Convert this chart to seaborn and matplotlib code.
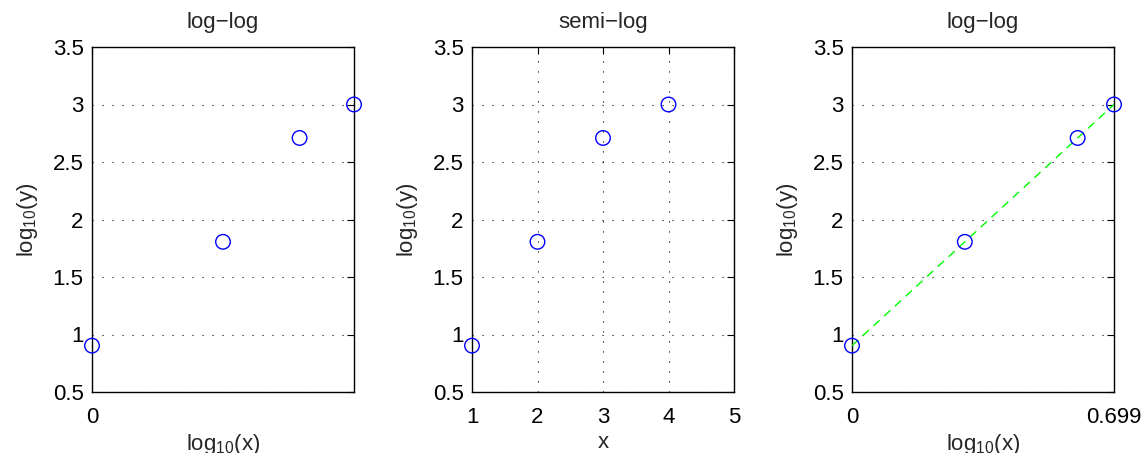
import matplotlib
matplotlib.use('Agg')
import matplotlib.pyplot as plt
import seaborn as sns
import pandas as pd

# values
loglog_x = [0.0, 0.301, 0.477, 0.602]
semilog_x = [1, 2, 3, 4]
fit_x = [0.0, 0.301, 0.602, 0.699]
log_y = [0.903, 1.806, 2.709, 3.0]
fit_line_x = [0.0, 0.699]
fit_line_y = [0.903, 3.0]

titles = ['log\u2212log', 'semi\u2212log', 'log\u2212log']
y_ticks = [0.5, 1, 1.5, 2, 2.5, 3, 3.5]
y_ticklabels = ['0.5', '1', '1.5', '2', '2.5', '3', '3.5']

FS = 16


def style_axes(ax, title, xlabel):
    ax.set_ylim(0.5, 3.5)
    ax.set_yticks(y_ticks)
    ax.set_yticklabels(y_ticklabels)
    ax.set_title(title, fontsize=FS, pad=14)
    ax.set_xlabel(xlabel, fontsize=FS, labelpad=3)
    ax.set_ylabel('log$_{\\mathregular{10}}$(y)', fontsize=FS, labelpad=9)
    ax.grid(True, color='black', linestyle=(0, (1, 8)), linewidth=0.8)
    ax.tick_params(direction='in', length=5, width=0.8, top=True, right=True,
                   labelsize=FS, colors='black')
    ax.tick_params(axis='y', pad=6)
    ax.tick_params(axis='x', pad=11)
    for sp in ax.spines.values():
        sp.set_visible(True)
        sp.set_color('black')
        sp.set_linewidth(1.0)


def scatter(ax, xs, ys):
    df = pd.DataFrame({'x': xs, 'y': ys})
    sns.scatterplot(data=df, x='x', y='y', ax=ax, marker='o', s=110,
                    facecolors='none', edgecolor='blue', linewidth=1.0,
                    clip_on=False, zorder=5)


def main():
    sns.set_style('white')
    plt.rcParams['font.family'] = ['Liberation Sans', 'DejaVu Sans']
    plt.rcParams['mathtext.fontset'] = 'custom'
    plt.rcParams['mathtext.rm'] = 'Liberation Sans'
    plt.rcParams['mathtext.it'] = 'Liberation Sans'

    fig = plt.figure(figsize=(11.44, 4.53), dpi=100)
    lefts = [92 / 1144, 472 / 1144, 852 / 1144]
    w = 262 / 1144
    b = 61 / 453
    h = 345 / 453
    axes = [fig.add_axes([l, b, w, h]) for l in lefts]

    ax1, ax2, ax3 = axes

    scatter(ax1, loglog_x, log_y)
    ax1.set_xlim(0, 0.602)
    ax1.set_xticks([0])
    ax1.set_xticklabels(['0'])
    style_axes(ax1, titles[0], 'log$_{\\mathregular{10}}$(x)')

    scatter(ax2, semilog_x, log_y)
    ax2.set_xlim(1, 5)
    ax2.set_xticks([1, 2, 3, 4, 5])
    ax2.set_xticklabels(['1', '2', '3', '4', '5'])
    style_axes(ax2, titles[1], 'x')

    line_df = pd.DataFrame({'x': fit_line_x, 'y': fit_line_y})
    sns.lineplot(data=line_df, x='x', y='y', ax=ax3, color=(0, 1, 0),
                 linewidth=1.0, dashes=False, zorder=4)
    ax3.lines[-1].set_dashes([6, 4.5])
    scatter(ax3, fit_x, log_y)
    ax3.set_xlim(0, 0.699)
    ax3.set_xticks([0, 0.699])
    ax3.set_xticklabels(['0', '0.699'])
    style_axes(ax3, titles[2], 'log$_{\\mathregular{10}}$(x)')

    fig.savefig('out.png', dpi=100)
    plt.close(fig)


if __name__ == '__main__':
    main()
